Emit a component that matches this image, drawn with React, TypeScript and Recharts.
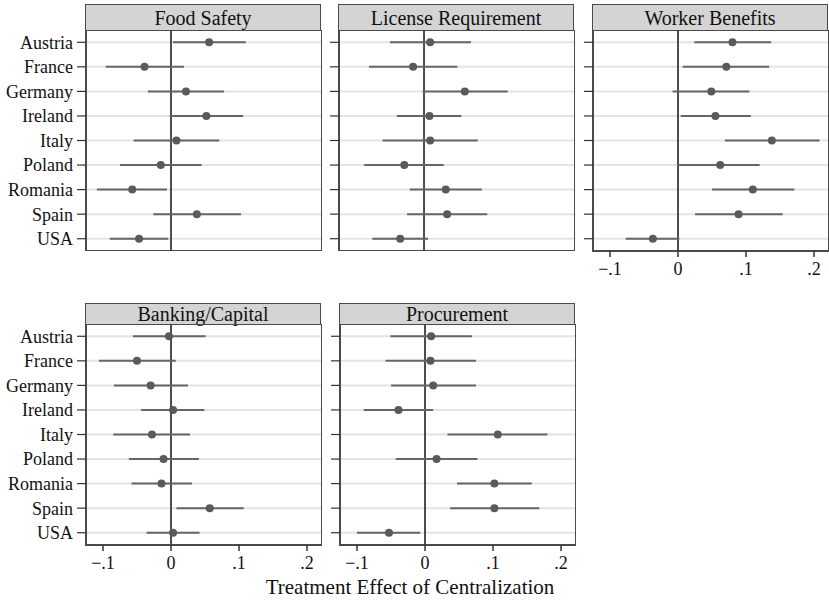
import React from 'react'
import { ScatterChart, Scatter, XAxis, YAxis, CartesianGrid, ReferenceLine, ReferenceArea, ErrorBar } from 'recharts'

const countries = ['Austria', 'France', 'Germany', 'Ireland', 'Italy', 'Poland', 'Romania', 'Spain', 'USA']
const xTicks = [-0.1, 0, 0.1, 0.2]

const foodEst = [0.056, -0.039, 0.022, 0.052, 0.008, -0.015, -0.057, 0.038, -0.047]
const foodLo = [0.003, -0.096, -0.034, -0.002, -0.055, -0.075, -0.109, -0.026, -0.09]
const foodHi = [0.11, 0.019, 0.078, 0.106, 0.071, 0.045, -0.006, 0.103, -0.004]

const licenseEst = [0.009, -0.016, 0.06, 0.008, 0.009, -0.029, 0.032, 0.034, -0.035]
const licenseLo = [-0.05, -0.081, -0.002, -0.04, -0.061, -0.088, -0.021, -0.025, -0.076]
const licenseHi = [0.069, 0.049, 0.123, 0.055, 0.079, 0.029, 0.085, 0.093, 0.006]

const workerEst = [0.08, 0.071, 0.049, 0.055, 0.138, 0.062, 0.11, 0.089, -0.037]
const workerLo = [0.024, 0.007, -0.008, 0.004, 0.069, 0.0, 0.05, 0.025, -0.077]
const workerHi = [0.137, 0.134, 0.105, 0.107, 0.208, 0.12, 0.171, 0.154, 0.002]

const bankingEst = [-0.003, -0.05, -0.03, 0.003, -0.028, -0.011, -0.014, 0.057, 0.003]
const bankingLo = [-0.056, -0.106, -0.084, -0.044, -0.085, -0.062, -0.058, 0.008, -0.036]
const bankingHi = [0.051, 0.007, 0.025, 0.049, 0.028, 0.041, 0.031, 0.107, 0.042]

const procEst = [0.009, 0.008, 0.012, -0.039, 0.107, 0.017, 0.102, 0.102, -0.053]
const procLo = [-0.051, -0.058, -0.05, -0.09, 0.033, -0.043, 0.047, 0.037, -0.1]
const procHi = [0.069, 0.075, 0.075, 0.012, 0.18, 0.077, 0.157, 0.168, -0.007]

const FONT = '"Liberation Serif", "Times New Roman", serif'
const X_DOMAIN: [number, number] = [-0.125, 0.222]
const PLOT_W = 236
const PLOT_H = 219

const fmtX = (v: number) => {
  if (v === 0) return '0'
  return (v < 0 ? '\u2212' : '') + '.' + Math.round(Math.abs(v) * 10)
}

interface PanelProps {
  title: string
  est: number[]
  lo: number[]
  hi: number[]
  left: number
  top: number
  titleTop: number
  titleH: number
  labels: boolean
  xAxis: boolean
}

function Panel({ title, est, lo, hi, left, top, titleTop, titleH, labels, xAxis }: PanelProps) {
  const rows = countries.map((c, i) => ({
    country: c,
    idx: i + 1,
    est: est[i],
    err: [est[i] - lo[i], hi[i] - est[i]],
  }))
  const yW = labels ? left : 12
  const xH = xAxis ? 32 : 2

  return (
    <>
      <div
        style={{
          position: 'absolute',
          left: left - 1,
          top: titleTop,
          width: PLOT_W,
          height: titleH,
          boxSizing: 'border-box',
          background: '#d4d4d4',
          border: '1.5px solid #4a4a4a',
          borderBottom: 'none',
          display: 'flex',
          alignItems: 'center',
          justifyContent: 'center',
          fontFamily: FONT,
          fontSize: 20,
          color: '#111',
          lineHeight: 1,
        }}
      >
        {title}
      </div>
      <div style={{ position: 'absolute', left: left - yW, top }}>
        <ScatterChart width={yW + PLOT_W} height={PLOT_H + xH} margin={{ top: 0, right: 0, bottom: 0, left: 0 }}>
          <CartesianGrid horizontal vertical={false} stroke="#e4e4e4" strokeWidth={2} />
          <XAxis
            type="number"
            dataKey="est"
            domain={X_DOMAIN}
            allowDataOverflow
            ticks={xTicks}
            interval={0}
            tickFormatter={fmtX}
            hide={!xAxis}
            height={xAxis ? 30 : 0}
            axisLine={false}
            tickSize={6}
            tickMargin={5}
            tickLine={{ stroke: '#333', strokeWidth: 1.5 }}
            tick={{ fill: '#111', fontSize: 18, fontFamily: FONT }}
          />
          <YAxis
            type="number"
            dataKey="idx"
            domain={[0.5, 9.5]}
            allowDataOverflow
            reversed
            ticks={[1, 2, 3, 4, 5, 6, 7, 8, 9]}
            interval={0}
            width={yW}
            tickFormatter={(v: number) => (labels ? countries[v - 1] : '')}
            axisLine={false}
            tickSize={9}
            tickMargin={4}
            tickLine={{ stroke: '#333', strokeWidth: 1.2 }}
            tick={{ fill: '#111', fontSize: 18, fontFamily: FONT }}
          />
          <ReferenceLine x={0} stroke="#3a3a3a" strokeWidth={1.8} />
          <Scatter
            data={rows}
            isAnimationActive={false}
            shape={(p: any) => <circle cx={p.cx} cy={p.cy} r={4} fill="#5a5a5a" />}
          >
            <ErrorBar dataKey="err" direction="x" width={0} stroke="#666" strokeWidth={2} />
          </Scatter>
          <ReferenceArea
            x1={X_DOMAIN[0]}
            x2={X_DOMAIN[1]}
            y1={0.5}
            y2={9.5}
            fill="none"
            fillOpacity={0}
            stroke="#4a4a4a"
            strokeWidth={2}
            ifOverflow="visible"
          />
        </ScatterChart>
      </div>
    </>
  )
}

export default function App() {
  return (
    <div style={{ position: 'absolute', left: 0, top: 0, width: 829, height: 605, background: '#fff', overflow: 'hidden' }}>
      <Panel title="Food Safety" est={foodEst} lo={foodLo} hi={foodHi} left={86} top={30} titleTop={4} titleH={26} labels xAxis={false} />
      <Panel title="License Requirement" est={licenseEst} lo={licenseLo} hi={licenseHi} left={339} top={30} titleTop={4} titleH={26} labels={false} xAxis={false} />
      <Panel title="Worker Benefits" est={workerEst} lo={workerLo} hi={workerHi} left={593} top={30} titleTop={4} titleH={26} labels={false} xAxis />
      <Panel title="Banking/Capital" est={bankingEst} lo={bankingLo} hi={bankingHi} left={86} top={324} titleTop={303} titleH={21} labels xAxis />
      <Panel title="Procurement" est={procEst} lo={procLo} hi={procHi} left={340} top={324} titleTop={303} titleH={21} labels={false} xAxis />
      <div
        style={{
          position: 'absolute',
          left: 0,
          width: 829,
          marginLeft: -2,
          top: 577,
          fontFamily: FONT,
          fontSize: 21,
          lineHeight: '21px',
          color: '#111',
          textAlign: 'center',
          paddingLeft: 0,
        }}
      >
        <span style={{ position: 'absolute', left: 412, transform: 'translateX(-50%)', whiteSpace: 'nowrap' }}>
          Treatment Effect of Centralization
        </span>
      </div>
    </div>
  )
}
